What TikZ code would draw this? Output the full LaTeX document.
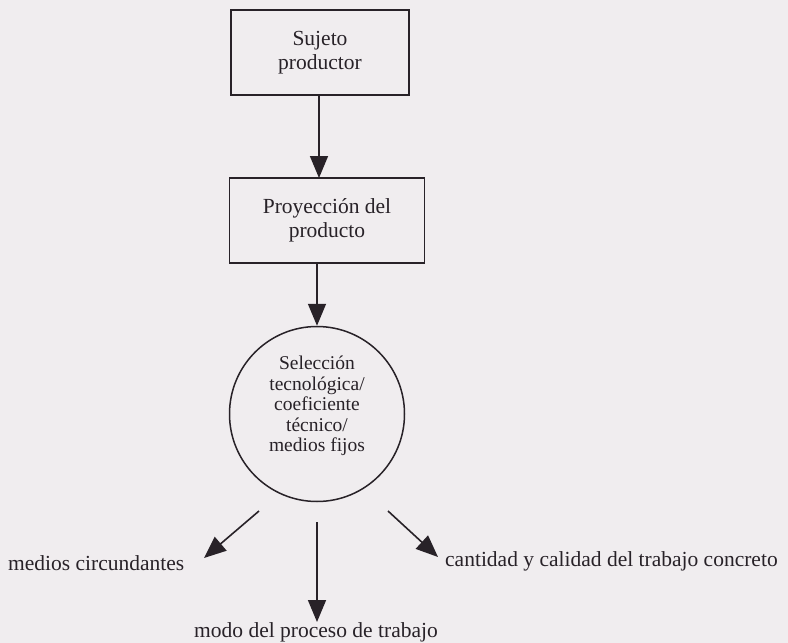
\documentclass[tikz,border=0pt]{standalone}
\usepackage{fontspec}
\setmainfont{Liberation Serif}
\usetikzlibrary{arrows.meta}
\definecolor{bg}{RGB}{240,237,239}
\definecolor{ink}{RGB}{40,34,40}
\begin{document}
\begin{tikzpicture}[x=1pt,y=-1pt,
  every node/.style={text=ink, font=\fontsize{21.5}{24}\selectfont},
  boxnode/.style={draw=ink, line width=1.5pt, align=center, inner sep=0pt},
  circnode/.style={draw=ink, line width=1.5pt, circle, align=center, inner sep=0pt, minimum size=175pt},
  circtext/.style={align=center, inner sep=0pt, font=\fontsize{19.5}{20.5}\selectfont},
  conn/.style={draw=ink, line width=1.6pt, -{Triangle[length=22pt,width=18pt]}}]
\fill[bg] (0,0) rectangle (788,643);
\useasboundingbox (0,0) rectangle (788,643);
\node[boxnode, minimum width=178pt, minimum height=85pt] (s1) at (320,52.5) {Sujeto\\productor};
\node[boxnode, minimum width=195pt, minimum height=85pt] (s2) at (327,220.5) {Proyección del\\producto};
\node[circnode] (c) at (317,414) {};
\node[circtext] (ct) at (317,406) {Selección\\tecnológica/\\coeficiente\\técnico/\\medios fijos};
\node[anchor=west, inner sep=0pt] (ml) at (8,563) {medios circundantes};
\node[anchor=north, inner sep=0pt] (mm) at (316,622) {modo del proceso de trabajo};
\node[anchor=west, inner sep=0pt] (mr) at (445,561) {cantidad y calidad del trabajo concreto};
\coordinate (la) at (259,511);
\coordinate (lb) at (204,558);
\coordinate (ma) at (317,522);
\coordinate (ra) at (388,511);
\coordinate (rb) at (438,557);
\draw[conn] (319,95) -- (319,178);
\draw[conn] (c.north |- s2.south) -- (c.north);
\draw[conn] (la) -- (lb);
\draw[conn] (ma) -- (ma |- mm.north);
\draw[conn] (ra) -- (rb);
\end{tikzpicture}
\end{document}
